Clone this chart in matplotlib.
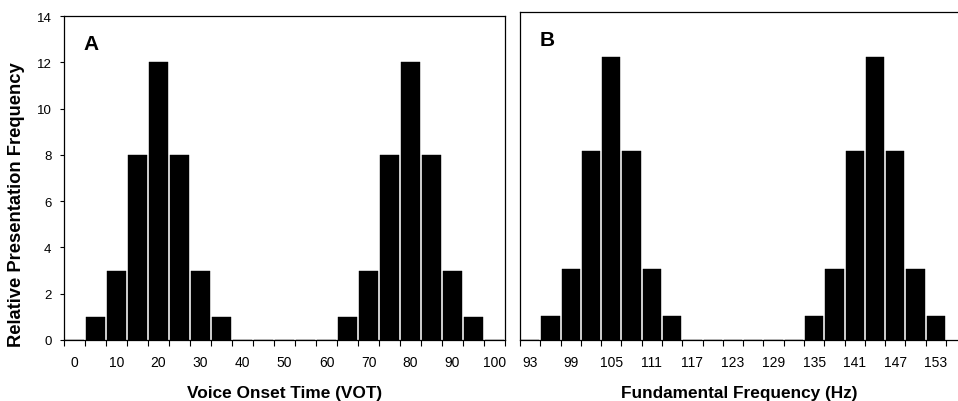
import numpy as np
import matplotlib
matplotlib.use('Agg')
import matplotlib.pyplot as plt

plt.rcParams['font.family'] = ['Liberation Sans', 'DejaVu Sans']

# Panel A: voice onset time categories and frequencies
vot = [0, 5, 10, 15, 20, 25, 30, 35, 40, 45, 50, 55, 60, 65, 70, 75, 80, 85, 90, 95, 100]
vot_freq = [0, 1, 3, 8, 12, 8, 3, 1, 0, 0, 0, 0, 0, 1, 3, 8, 12, 8, 3, 1, 0]

# Panel B: fundamental frequency categories and frequencies
f0 = [93, 96, 99, 102, 105, 108, 111, 114, 117, 120, 123, 126, 129, 132, 135, 138, 141, 144, 147, 150, 153]
f0_freq = [0, 1, 3, 8, 12, 8, 3, 1, 0, 0, 0, 0, 0, 0, 1, 3, 8, 12, 8, 3, 1]

fig = plt.figure(figsize=(9.58, 4.02), dpi=100)
axA = fig.add_axes([64/958, 61/402, 441/958, 324/402])
axB = fig.add_axes([520/958, 61/402, 438/958, 328/402])


def draw(ax, cats, vals, xlabel, letter):
    x = np.arange(len(cats))
    ax.bar(x, vals, width=0.9, color='black', edgecolor='black', linewidth=0.3)
    # category-axis style: ticks on bin edges, labels every other bin
    ax.set_xticks(np.arange(len(cats) + 1) - 0.5)
    ax.set_xticklabels([])
    ax.set_xticks(x[::2], minor=True)
    ax.set_xticklabels([str(c) for c in cats[::2]], minor=True, fontsize=10)
    ax.tick_params(axis='x', which='major', direction='out', length=4, width=0.8)
    ax.tick_params(axis='x', which='minor', length=0, pad=11)
    ax.set_xlabel(xlabel, fontsize=12.4, fontweight='bold', labelpad=11)
    ax.text(0.045, 0.945, letter, transform=ax.transAxes, fontsize=15,
            fontweight='bold', va='top', ha='left')
    for s in ax.spines.values():
        s.set_linewidth(0.9)


draw(axA, vot, vot_freq, 'Voice Onset Time (VOT)', 'A')
axA.set_xlim(-0.5, len(vot) - 0.5)
axA.set_ylim(0, 14)
axA.set_yticks(range(0, 15, 2))
axA.tick_params(axis='y', direction='out', length=3, width=0.8, labelsize=9.5, pad=6)
axA.set_ylabel('Relative Presentation Frequency', fontsize=13.2, fontweight='bold')
axA.yaxis.set_label_coords(-0.088, 0.42)

draw(axB, f0, f0_freq, 'Fundamental Frequency (Hz)', 'B')
axB.set_xlim(-0.5, len(f0) - 0.5 + 12/20.3)
axB.set_ylim(0, 13.9)
axB.set_yticks([])
axB.spines['right'].set_visible(False)

fig.savefig('out.png', dpi=100)
